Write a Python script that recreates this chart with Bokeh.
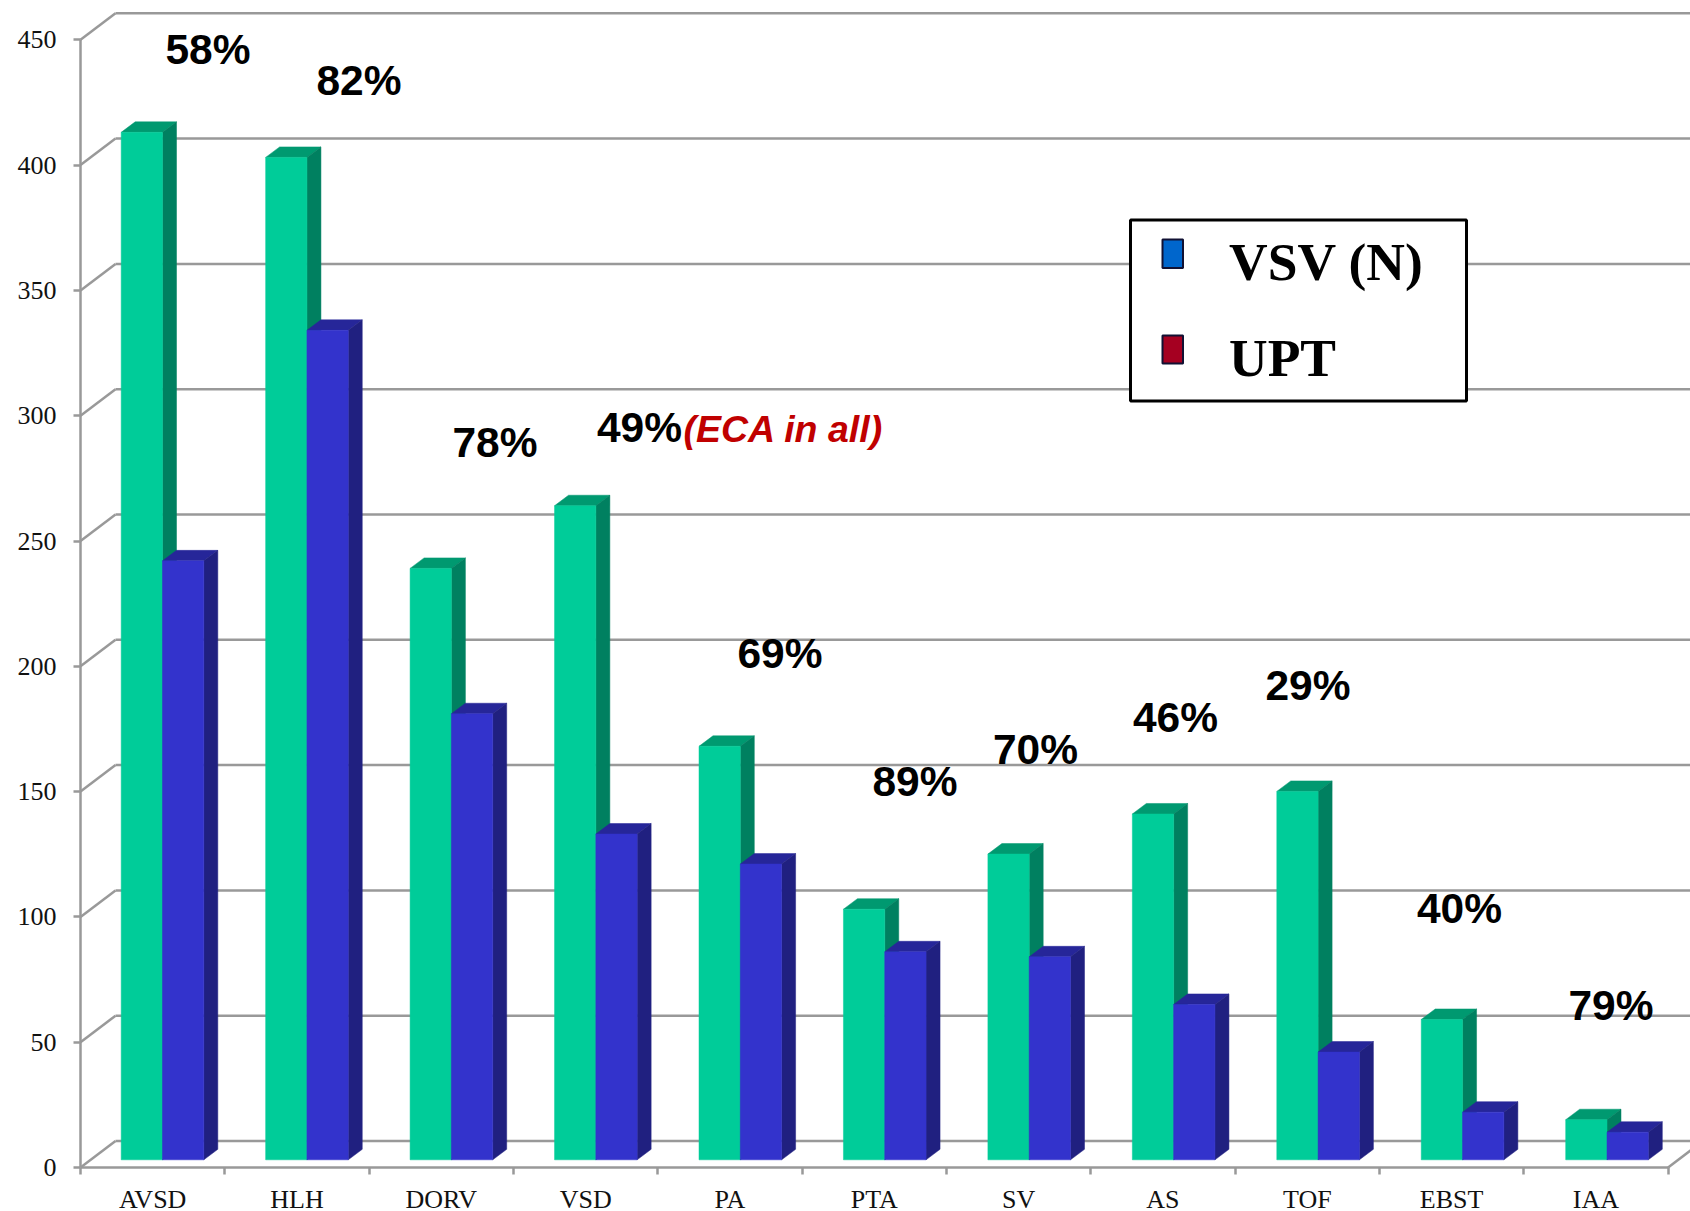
from bokeh.core.properties import value
from bokeh.embed import file_html
from bokeh.models import FixedTicker, LinearAxis, Range1d
from bokeh.plotting import figure
from bokeh.resources import INLINE

categories = ["AVSD", "HLH", "DORV", "VSD", "PA", "PTA", "SV", "AS", "TOF", "EBST", "IAA"]
vsv_n = [410, 400, 236, 261, 165, 100, 122, 138, 147, 56, 16]
upt = [239, 331, 178, 130, 118, 83, 81, 62, 43, 19, 11]
percent_labels = ["58%", "82%", "78%", "49%", "69%", "89%", "70%", "46%", "29%", "40%", "79%"]
y_ticks = list(range(0, 451, 50))
legend_labels = ["VSV (N)", "UPT"]
note_text = "(ECA in all)"

# Page geometry: one category and one axis unit expressed in pixels
WIDTH, HEIGHT = 1690, 1211
ORIGIN_X, ORIGIN_Y = 80.0, 1167.0
PX_PER_CAT = 144.33
PX_PER_UNIT = 2.506


def dx(px):
    return px / PX_PER_CAT


def dy(px):
    return px / PX_PER_UNIT


def at_x(px):
    return (px - ORIGIN_X) / PX_PER_CAT


def at_y(py):
    return (ORIGIN_Y - py) / PX_PER_UNIT


p = figure(
    width=WIDTH, height=HEIGHT, output_backend="svg", toolbar_location=None,
    x_axis_type=None, y_axis_type=None, min_border=0,
    x_range=Range1d(at_x(0), at_x(WIDTH)), y_range=Range1d(at_y(HEIGHT), at_y(0)),
    background_fill_color="white", border_fill_color="white", outline_line_color=None,
)
p.grid.visible = False

WALL = "#999999"
WALL_DX, WALL_DY = dx(35), dy(26.5)

# Back wall gridlines and the slanted lines on the side wall
p.segment(x0=[WALL_DX] * len(y_ticks), y0=[t + WALL_DY for t in y_ticks],
          x1=[at_x(WIDTH)] * len(y_ticks), y1=[t + WALL_DY for t in y_ticks],
          line_color=WALL, line_width=2.5)
p.segment(x0=[0] * len(y_ticks), y0=y_ticks,
          x1=[WALL_DX] * len(y_ticks), y1=[t + WALL_DY for t in y_ticks],
          line_color=WALL, line_width=2.5)
# Right-hand edge of the floor
p.segment(x0=[len(categories)], y0=[0], x1=[len(categories) + WALL_DX], y1=[WALL_DY],
          line_color=WALL, line_width=2.5)

# Value axis on the side wall
y_axis = LinearAxis(ticker=FixedTicker(ticks=y_ticks), fixed_location=0, bounds=(0, 450))
y_axis.axis_line_color = WALL
y_axis.axis_line_width = 2.5
y_axis.major_tick_line_color = WALL
y_axis.major_tick_line_width = 2.5
y_axis.major_tick_out = 7
y_axis.major_tick_in = 0
y_axis.minor_tick_out = 0
y_axis.minor_tick_in = 0
y_axis.major_label_text_font = "Liberation Serif"
y_axis.major_label_text_font_size = "26px"
y_axis.major_label_text_color = "#111111"
y_axis.major_label_standoff = 17
p.add_layout(y_axis, "left")

# Category axis: ticks fall between the groups, labels at their centres
n = len(categories)
x_axis = LinearAxis(
    ticker=FixedTicker(ticks=[i + 0.5 for i in range(n)], minor_ticks=list(range(n + 1))),
    fixed_location=0, bounds=(0, n),
    major_label_overrides={i + 0.5: c for i, c in enumerate(categories)},
)
x_axis.axis_line_color = WALL
x_axis.axis_line_width = 2.5
x_axis.major_tick_out = 0
x_axis.major_tick_in = 0
x_axis.minor_tick_line_color = WALL
x_axis.minor_tick_line_width = 2.5
x_axis.minor_tick_out = 7
x_axis.minor_tick_in = 0
x_axis.major_label_text_font = "Liberation Serif"
x_axis.major_label_text_font_size = "26px"
x_axis.major_label_text_color = "#111111"
x_axis.major_label_standoff = 10
p.add_layout(x_axis, "below")

# Three-sided bars standing slightly in front of the back wall
BAR_START = dx(40.7)
BAR_STEP = dx(144.45)
BAR_W = dx(41.3)
BAR_LIFT = dy(7.7)
DEPTH_X, DEPTH_Y = dx(14), dy(10.5)


def draw_bars(values, offset, front, side, top):
    lefts = [BAR_START + i * BAR_STEP + offset for i in range(len(values))]
    rights = [x + BAR_W for x in lefts]
    tops = [v + BAR_LIFT for v in values]
    p.patches(
        xs=[[l, r, r + DEPTH_X, l + DEPTH_X] for l, r in zip(lefts, rights)],
        ys=[[t, t, t + DEPTH_Y, t + DEPTH_Y] for t in tops],
        fill_color=top, line_color=top, line_width=0.5,
    )
    p.patches(
        xs=[[r, r + DEPTH_X, r + DEPTH_X, r] for r in rights],
        ys=[[BAR_LIFT, BAR_LIFT + DEPTH_Y, t + DEPTH_Y, t] for t in tops],
        fill_color=side, line_color=side, line_width=0.5,
    )
    p.quad(left=lefts, right=rights, bottom=BAR_LIFT, top=tops,
           fill_color=front, line_color=front, line_width=0.5)


draw_bars(vsv_n, 0, "#00CC99", "#008060", "#009970")
draw_bars(upt, BAR_W, "#3333CC", "#202080", "#262699")

# Percentages above each group: centre x and baseline position, in page pixels
label_px = [207.5, 358.5, 494.5, 639, 779.5, 914.5, 1035, 1175, 1307.5, 1459, 1610.5]
label_py = [49, 80, 442, 427, 653, 781, 749, 717, 685, 908, 1005]
p.text(x=[at_x(v) for v in label_px], y=[at_y(v) for v in label_py], text=percent_labels,
       text_font=value("Liberation Sans"), text_font_style="bold",
       text_font_size=value("42.5px"), text_color="black",
       text_align="center", text_baseline="alphabetic")

p.text(x=[at_x(683)], y=[at_y(428)], text=[note_text],
       text_font=value("Liberation Sans"), text_font_style="bold italic",
       text_font_size=value("37.5px"), text_color="#C00000",
       text_align="left", text_baseline="alphabetic")

# Legend box
p.quad(left=[at_x(1130)], right=[at_x(1466)], top=[at_y(219.5)], bottom=[at_y(400.5)],
       fill_color="white", line_color="black", line_width=3)
p.quad(left=[at_x(1162), at_x(1162)], right=[at_x(1182.5), at_x(1182.5)],
       top=[at_y(239), at_y(335)], bottom=[at_y(267.5), at_y(363)],
       fill_color=["#0066CC", "#A50021"], line_color="#111133", line_width=2)
p.text(x=[at_x(1228.5), at_x(1228.5)], y=[at_y(261), at_y(357)], text=legend_labels,
       text_font=value("Liberation Serif"), text_font_style="bold",
       text_font_size=value("53.5px"), text_color="black",
       text_align="left", text_baseline="alphabetic")

open("out.html", "w").write(file_html(p, INLINE))
